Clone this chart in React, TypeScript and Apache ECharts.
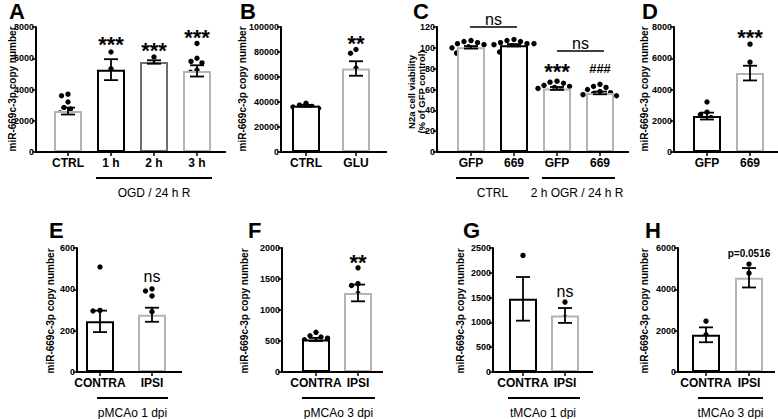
import React, { useEffect, useRef } from "react";
import * as echarts from "echarts";

const FONT = "'Liberation Sans', Arial, Helvetica, sans-serif";
const BLACK = "#000000";
const DARK = "#6e6e6e";
const LIGHT = "#b4b4b4";

// ---------- Panel A ----------
const aCategories = ["CTRL", "1 h", "2 h", "3 h"];
const aYTicks = [0, 2000, 4000, 6000, 8000];
const aMeans = [2620, 5270, 5760, 5190];
const aSems = [220, 670, 110, 360];
const aCtrl = [3600, 3700, 3200, 2850, 2750, 2500, 2450, 2400, 2100, 1600];
const a1h = [6400, 5330, 4100];
const a2h = [6080, 5650, 5550];
const a3h = [6950, 6000, 5800, 5700, 5250, 5100, 4800, 4000, 3850];

// ---------- Panel B ----------
const bCategories = ["CTRL", "GLU"];
const bYTicks = [0, 20000, 40000, 60000, 80000, 100000];
const bMeans = [37000, 66800];
const bSems = [700, 5800];
const bCtrl = [39000, 37500, 36500, 36000, 35000];
const bGlu = [82000, 79000, 67000, 58000, 53000];

// ---------- Panel C ----------
const cCategories = ["GFP", "669", "GFP", "669"];
const cYTicks = [0, 20, 40, 60, 80, 100, 120];
const cMeans = [100.5, 102.5, 61, 56.7];
const cSems = [1.2, 1.1, 1.4, 1.3];
const cGfpCtrl = [107, 106, 105, 104, 103, 101, 100, 99, 97, 96, 95, 94];
const c669Ctrl = [108, 107, 106, 105, 104, 104, 103, 102, 100, 98, 97, 96];
const cGfpOgr = [68, 67, 66, 64, 63, 62, 61, 60, 58, 56, 54, 50];
const c669Ogr = [65, 63, 62, 60, 58, 57, 56, 55, 54, 52, 50, 48];

// ---------- Panel D ----------
const dCategories = ["GFP", "669"];
const dYTicks = [0, 2000, 4000, 6000, 8000];
const dMeans = [2300, 5050];
const dSems = [220, 470];
const dGfp = [3200, 2550, 2400, 2200, 2100, 1600];
const d669 = [6900, 5750, 4750, 4600, 4000, 3850];

// ---------- Panel E ----------
const eCategories = ["CONTRA", "IPSI"];
const eYTicks = [0, 200, 400, 600];
const eMeans = [245, 277];
const eSems = [52, 34];
const eContra = [508, 298, 295, 190, 160, 150, 125];
const eIpsi = [402, 392, 368, 292, 240, 195, 175, 172];

// ---------- Panel F ----------
const fCategories = ["CONTRA", "IPSI"];
const fYTicks = [0, 500, 1000, 1500, 2000];
const fMeans = [525, 1275];
const fSems = [25, 135];
const fContra = [640, 585, 565, 545, 520, 490, 450, 430];
const fIpsi = [1680, 1425, 1395, 1265, 1130, 825];

// ---------- Panel G ----------
const gCategories = ["CONTRA", "IPSI"];
const gYTicks = [0, 500, 1000, 1500, 2000, 2500];
const gMeans = [1475, 1140];
const gSems = [440, 150];
const gContra = [2350, 1060, 1000];
const gIpsi = [1410, 1100, 910];

// ---------- Panel H ----------
const hCategories = ["CONTRA", "IPSI"];
const hYTicks = [0, 2000, 4000, 6000];
const hMeans = [1800, 4560];
const hSems = [360, 470];
const hContra = [2460, 1800, 1200];
const hIpsi = [5220, 4780, 3650];

type Layout = { yAxisX: number; top: number; bottom: number; bandStart: number; band: number; axisEnd: number };
type Panel = {
  letter: string; letterX: number; letterY: number;
  cats: string[]; ticks: number[]; means: number[]; sems: number[]; dots: number[][];
  colors: string[]; L: Layout; yTitle: string; yTitleX: number; yTitleY: number; yTitleSize: number;
};

const Y_TITLE = "miR-669c-3p copy number";

const panels: Panel[] = [
  { letter: "A", letterX: 9, letterY: 11, cats: aCategories, ticks: aYTicks, means: aMeans, sems: aSems,
    dots: [aCtrl, a1h, a2h, a3h], colors: [LIGHT, BLACK, DARK, LIGHT],
    L: { yAxisX: 36, top: 27, bottom: 152, bandStart: 46.5, band: 43, axisEnd: 226 },
    yTitle: Y_TITLE, yTitleX: 12.5, yTitleY: 89, yTitleSize: 10 },
  { letter: "B", letterX: 240, letterY: 11, cats: bCategories, ticks: bYTicks, means: bMeans, sems: bSems,
    dots: [bCtrl, bGlu], colors: [BLACK, LIGHT],
    L: { yAxisX: 281, top: 27, bottom: 152, bandStart: 281, band: 50, axisEnd: 387 },
    yTitle: Y_TITLE, yTitleX: 242.5, yTitleY: 89, yTitleSize: 10 },
  { letter: "C", letterX: 413, letterY: 11, cats: cCategories, ticks: cYTicks, means: cMeans, sems: cSems,
    dots: [cGfpCtrl, c669Ctrl, cGfpOgr, c669Ogr], colors: [LIGHT, BLACK, LIGHT, LIGHT],
    L: { yAxisX: 437, top: 27, bottom: 152, bandStart: 449.5, band: 43, axisEnd: 629 },
    yTitle: "N2a cell viability\n(% of GFP control)", yTitleX: 416.5, yTitleY: 92, yTitleSize: 9.5 },
  { letter: "D", letterX: 642, letterY: 11, cats: dCategories, ticks: dYTicks, means: dMeans, sems: dSems,
    dots: [dGfp, d669], colors: [BLACK, LIGHT],
    L: { yAxisX: 674, top: 27, bottom: 152, bandStart: 685.5, band: 43, axisEnd: 778 },
    yTitle: Y_TITLE, yTitleX: 644.5, yTitleY: 89, yTitleSize: 10 },
  { letter: "E", letterX: 49, letterY: 230.5, cats: eCategories, ticks: eYTicks, means: eMeans, sems: eSems,
    dots: [eContra, eIpsi], colors: [BLACK, LIGHT],
    L: { yAxisX: 77, top: 248, bottom: 372, bandStart: 74, band: 52, axisEnd: 182 },
    yTitle: Y_TITLE, yTitleX: 50.5, yTitleY: 311, yTitleSize: 10 },
  { letter: "F", letterX: 248, letterY: 230.5, cats: fCategories, ticks: fYTicks, means: fMeans, sems: fSems,
    dots: [fContra, fIpsi], colors: [BLACK, LIGHT],
    L: { yAxisX: 282, top: 248, bottom: 372, bandStart: 295, band: 42, axisEnd: 383 },
    yTitle: Y_TITLE, yTitleX: 244.5, yTitleY: 311, yTitleSize: 10 },
  { letter: "G", letterX: 463, letterY: 230.5, cats: gCategories, ticks: gYTicks, means: gMeans, sems: gSems,
    dots: [gContra, gIpsi], colors: [BLACK, LIGHT],
    L: { yAxisX: 493, top: 248, bottom: 372, bandStart: 502, band: 42, axisEnd: 593 },
    yTitle: Y_TITLE, yTitleX: 460.5, yTitleY: 311, yTitleSize: 10 },
  { letter: "H", letterX: 645, letterY: 230.5, cats: hCategories, ticks: hYTicks, means: hMeans, sems: hSems,
    dots: [hContra, hIpsi], colors: [BLACK, LIGHT],
    L: { yAxisX: 678, top: 248, bottom: 372, bandStart: 684.5, band: 43, axisEnd: 775 },
    yTitle: Y_TITLE, yTitleX: 644.5, yTitleY: 311, yTitleSize: 10 },
];

// significance / annotation texts (pixel placement)
const starTexts = [
  { x: 111, y: 44, t: "***" }, { x: 154, y: 50, t: "***" }, { x: 197, y: 37, t: "***" },
  { x: 356, y: 43, t: "**" }, { x: 557, y: 71, t: "***" }, { x: 750, y: 37, t: "***" },
  { x: 358, y: 262, t: "**" },
];
const nsTexts = [
  { x: 493.5, y: 19, t: "ns" }, { x: 580.5, y: 43, t: "ns" },
  { x: 152, y: 276, t: "ns" }, { x: 565, y: 291, t: "ns" },
];
const smallBoldTexts = [
  { x: 600, y: 68, t: "###", size: 13 }, { x: 749, y: 253, t: "p=0.0516", size: 10 },
];
const nsLines = [
  { x1: 470, x2: 517, y: 27 }, { x1: 557, x2: 604, y: 51 },
];
const groupBrackets = [
  { x1: 96, x2: 212, y: 178, label: "OGD / 24 h R", lx: 154, ly: 193 },
  { x1: 456, x2: 529, y: 178, label: "CTRL", lx: 492.5, ly: 193 },
  { x1: 542, x2: 615, y: 178, label: "2 h OGR / 24 h R", lx: 577, ly: 193 },
  { x1: 97, x2: 168, y: 398, label: "pMCAo 1 dpi", lx: 132.5, ly: 413 },
  { x1: 302, x2: 375, y: 398, label: "pMCAo 3 dpi", lx: 338.5, ly: 413 },
  { x1: 508, x2: 580, y: 398, label: "tMCAo 1 dpi", lx: 543, ly: 413 },
  { x1: 698, x2: 763, y: 398, label: "tMCAo 3 dpi", lx: 730.5, ly: 413 },
];

// deterministic beeswarm offsets (pixels) so dots do not overlap
function swarm(values: number[], pxPerUnit: number, d = 6.6): number[] {
  const order = values.map((_, i) => i).sort((a, b) => values[b] - values[a]);
  const placed: { x: number; y: number }[] = [];
  const offs = new Array(values.length).fill(0);
  for (const i of order) {
    const y = values[i] * pxPerUnit;
    for (let k = 0; k < 120; k++) {
      const c = k === 0 ? 0 : (k % 2 === 1 ? -1 : 1) * Math.ceil(k / 2) * 0.5;
      if (placed.every((p) => (p.x - c) ** 2 + (p.y - y) ** 2 >= d * d)) {
        offs[i] = c;
        placed.push({ x: c, y });
        break;
      }
    }
  }
  return offs;
}

function txt(x: number, y: number, text: string, size: number, weight: string, extra: any = {}) {
  return {
    type: "text", x, y, z: 100, silent: true, ...extra,
    style: {
      text, fill: "#000", fontSize: size, fontWeight: weight, fontFamily: FONT,
      align: "center", textAlign: "center", verticalAlign: "middle", textVerticalAlign: "middle",
      ...(extra.style || {}),
    },
  };
}

function buildOption() {
  const grid: any[] = [];
  const xAxis: any[] = [];
  const yAxis: any[] = [];
  const series: any[] = [];
  const graphic: any[] = [];

  panels.forEach((p, i) => {
    const L = p.L;
    const n = p.cats.length;
    const yMax = p.ticks[p.ticks.length - 1];
    const h = L.bottom - L.top;
    grid.push({ left: L.bandStart, top: L.top, width: L.band * n, height: h });
    xAxis.push({
      gridIndex: i, type: "category", data: p.cats,
      axisLine: { show: false },
      axisTick: { show: true, alignWithLabel: true, length: 4, lineStyle: { color: "#000", width: 1.5 } },
      axisLabel: { interval: 0, color: "#000", fontFamily: FONT, fontWeight: "bold", fontSize: 12, margin: 5 },
    });
    yAxis.push({
      gridIndex: i, type: "value", min: p.ticks[0], max: yMax, interval: p.ticks[1] - p.ticks[0],
      offset: L.bandStart - L.yAxisX,
      axisLine: { show: true, lineStyle: { color: "#000", width: 2 } },
      axisTick: { show: true, length: 4, lineStyle: { color: "#000", width: 1.5 } },
      axisLabel: { color: "#000", fontFamily: FONT, fontWeight: "bold", fontSize: 9, margin: 2, formatter: (v: number) => String(v) },
      splitLine: { show: false },
    });
    series.push({
      type: "bar", xAxisIndex: i, yAxisIndex: i, barWidth: 28, silent: true,
      data: p.means.map((m, j) => ({ value: m, itemStyle: { color: "#fff", borderColor: p.colors[j], borderWidth: 2 } })),
    });
    const dotData: number[][] = [];
    p.dots.forEach((vals, j) => {
      const offs = swarm(vals, h / yMax);
      vals.forEach((v, k) => dotData.push([j, v, offs[k]]));
    });
    series.push({
      type: "custom", xAxisIndex: i, yAxisIndex: i, silent: true, data: dotData,
      renderItem: (_params: any, api: any) => {
        const c = api.coord([api.value(0), api.value(1)]);
        return { type: "circle", shape: { cx: c[0] + api.value(2), cy: c[1], r: 2.7 }, style: { fill: "#000" } };
      },
    });
    series.push({
      type: "custom", xAxisIndex: i, yAxisIndex: i, silent: true, z: 5,
      data: p.means.map((m, j) => [j, m - p.sems[j], m + p.sems[j]]),
      renderItem: (_params: any, api: any) => {
        const lo = api.coord([api.value(0), api.value(1)]);
        const hi = api.coord([api.value(0), api.value(2)]);
        const w = 7;
        const st = { stroke: "#000", lineWidth: 1.8 };
        return {
          type: "group",
          children: [
            { type: "line", shape: { x1: lo[0], y1: lo[1], x2: hi[0], y2: hi[1] }, style: st },
            { type: "line", shape: { x1: hi[0] - w, y1: hi[1], x2: hi[0] + w, y2: hi[1] }, style: st },
            { type: "line", shape: { x1: lo[0] - w, y1: lo[1], x2: lo[0] + w, y2: lo[1] }, style: st },
          ],
        };
      },
    });
    // x axis line spanning from the y axis to the end
    graphic.push({
      type: "line", z: 100, silent: true,
      shape: { x1: L.yAxisX - 1, y1: L.bottom, x2: L.axisEnd, y2: L.bottom },
      style: { stroke: "#000", lineWidth: 2 },
    });
    graphic.push(txt(p.letterX, p.letterY, p.letter, 22, "bold", { style: { align: "left", textAlign: "left" } }));
    graphic.push(txt(p.yTitleX, p.yTitleY, p.yTitle, p.yTitleSize, "bold", { rotation: Math.PI / 2, style: { lineHeight: 10.5 } }));
  });

  starTexts.forEach((s) => graphic.push(txt(s.x, s.y, s.t, 22, "bold")));
  nsTexts.forEach((s) => graphic.push(txt(s.x, s.y, s.t, 16, "normal")));
  smallBoldTexts.forEach((s) => graphic.push(txt(s.x, s.y, s.t, s.size, "bold")));
  nsLines.forEach((l) =>
    graphic.push({ type: "line", z: 100, silent: true, shape: { x1: l.x1, y1: l.y, x2: l.x2, y2: l.y }, style: { stroke: "#000", lineWidth: 1.5 } })
  );
  groupBrackets.forEach((b) => {
    graphic.push({ type: "line", z: 100, silent: true, shape: { x1: b.x1, y1: b.y, x2: b.x2, y2: b.y }, style: { stroke: "#000", lineWidth: 2 } });
    graphic.push(txt(b.lx, b.ly, b.label, 12, "normal"));
  });

  return { animation: false, backgroundColor: "#fff", grid, xAxis, yAxis, series, graphic };
}

export default function App() {
  const ref = useRef<HTMLDivElement>(null);
  useEffect(() => {
    if (!ref.current) return;
    const chart = echarts.init(ref.current, null, { renderer: "svg" });
    chart.setOption(buildOption() as any);
    return () => chart.dispose();
  }, []);
  return <div ref={ref} style={{ position: "fixed", left: 0, top: 0, width: 778, height: 419, background: "#fff" }} />;
}
